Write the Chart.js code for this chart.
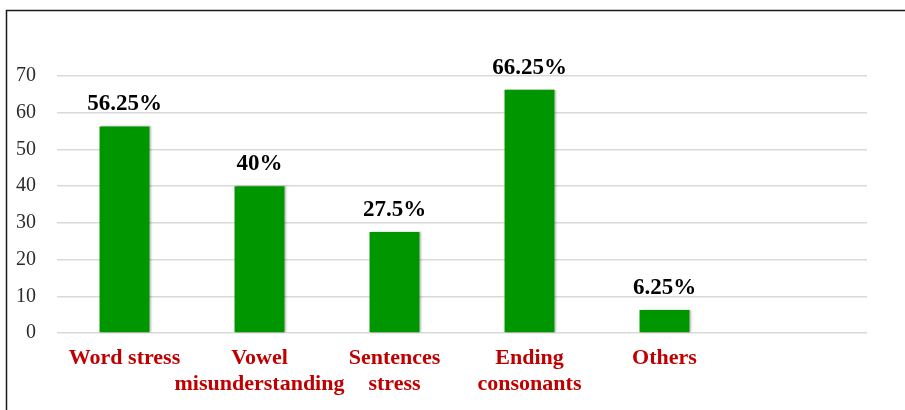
<!DOCTYPE html>
<html>
<head>
<meta charset="utf-8">
<script src="https://cdn.jsdelivr.net/npm/chart.js@4/dist/chart.umd.min.js"></script>
<style>
  html, body { margin: 0; padding: 0; background: #fff; }
  #wrap { width: 905px; height: 410px; position: relative; }
</style>
</head>
<body>
<div id="wrap"><canvas id="c" width="905" height="410"></canvas></div>
<script>
// Pronunciation problem categories and their share (%)
const categories = [
  'Word stress',
  ['Vowel', 'misunderstanding'],
  ['Sentences', 'stress'],
  ['Ending', 'consonants'],
  'Others',
  ''
];
const percentages = [56.25, 40, 27.5, 66.25, 6.25, null];
const yTicks = [0, 10, 20, 30, 40, 50, 60, 70];

// Frame around the figure (left and top edges visible)
const framePlugin = {
  id: 'frame',
  afterDraw(chart) {
    const ctx = chart.ctx;
    ctx.save();
    ctx.strokeStyle = '#1a1a1a';
    ctx.lineWidth = 1.5;
    ctx.beginPath();
    ctx.moveTo(6.5, 410);
    ctx.lineTo(6.5, 10.5);
    ctx.lineTo(905, 10.5);
    ctx.stroke();
    ctx.restore();
  }
};

// Soft shadow on the bars
const barShadow = {
  id: 'barShadow',
  beforeDatasetsDraw(chart) {
    const ctx = chart.ctx;
    ctx.save();
    ctx.shadowColor = 'rgba(0,0,0,0.28)';
    ctx.shadowBlur = 2;
    ctx.shadowOffsetX = 1.5;
    ctx.shadowOffsetY = 0;
  },
  afterDatasetsDraw(chart) {
    chart.ctx.restore();
  }
};

// Percentage labels above each bar
const valueLabels = {
  id: 'valueLabels',
  afterDatasetsDraw(chart) {
    const ctx = chart.ctx;
    const meta = chart.getDatasetMeta(0);
    ctx.save();
    ctx.font = 'bold 23px "Liberation Serif", "Times New Roman", serif';
    ctx.fillStyle = '#000';
    ctx.textAlign = 'center';
    ctx.textBaseline = 'alphabetic';
    meta.data.forEach((bar, i) => {
      const v = percentages[i];
      if (v === null || v === undefined) return;
      ctx.fillText(String(v) + '%', bar.x, bar.y - 16);
    });
    ctx.restore();
  }
};

new Chart(document.getElementById('c'), {
  type: 'bar',
  data: {
    labels: categories,
    datasets: [{
      data: percentages,
      backgroundColor: '#009600',
      borderWidth: 0,
      barPercentage: 0.37,
      categoryPercentage: 1.0
    }]
  },
  options: {
    responsive: false,
    animation: false,
    devicePixelRatio: 1,
    layout: { padding: { top: 76, right: 38, bottom: 0, left: 0 } },
    plugins: {
      legend: { display: false },
      tooltip: { enabled: false },
      title: { display: false }
    },
    scales: {
      x: {
        grid: { display: false, drawTicks: false },
        border: { display: false },
        ticks: {
          color: '#C00000',
          font: { family: '"Liberation Serif", "Times New Roman", serif', size: 22, weight: 'bold', lineHeight: 1.15 },
          padding: 13,
          maxRotation: 0,
          autoSkip: false
        },
        afterFit(scale) { scale.height = 77; }
      },
      y: {
        min: 0,
        max: 70,
        afterBuildTicks(scale) { scale.ticks = yTicks.map(v => ({ value: v })); },
        grid: { color: '#d9d9d9', lineWidth: 1.5, drawTicks: false },
        border: { display: false },
        ticks: {
          color: '#2b2b2b',
          font: { family: '"Liberation Serif", "Times New Roman", serif', size: 20 },
          padding: 21
        },
        afterFit(scale) { scale.width = 57; }
      }
    }
  },
  plugins: [barShadow, valueLabels, framePlugin]
});
</script>
</body>
</html>
